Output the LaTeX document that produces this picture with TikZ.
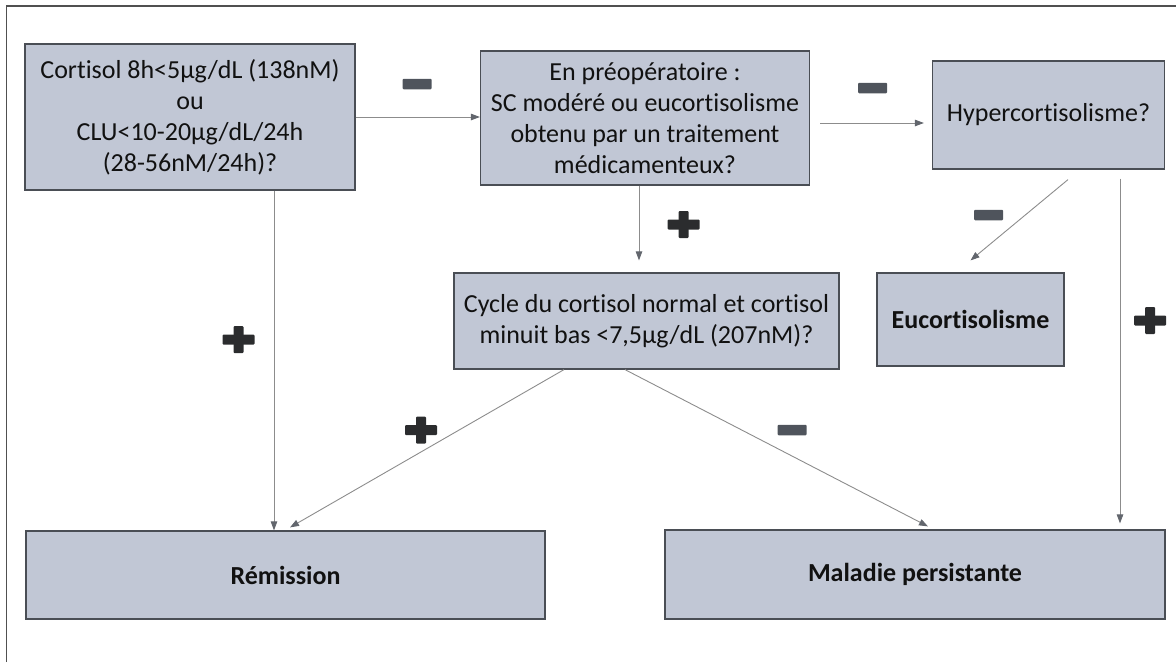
\documentclass[tikz,border=0pt]{standalone}
\usepackage{fontspec}
\setmainfont{Carlito}[Ligatures={NoCommon}]
\usetikzlibrary{arrows.meta}
\definecolor{boxfill}{HTML}{C1C7D5}
\definecolor{boxline}{HTML}{4A4E55}
\definecolor{connline}{HTML}{8C8C8C}
\definecolor{headcol}{HTML}{62666D}
\definecolor{minuscol}{HTML}{4F545C}
\definecolor{pluscol}{HTML}{2B2C2E}
\definecolor{textcol}{HTML}{111111}
\definecolor{framecol}{HTML}{505050}
\tikzset{
  box/.style={draw=boxline, line width=1.2pt, fill=boxfill, rectangle,
    inner sep=0pt, align=center, text=textcol,
    font=\fontsize{26}{31}\selectfont},
  boldbox/.style={box, font=\fontsize{26}{31}\selectfont\bfseries},
  conn/.style={draw=connline, line width=0.9pt,
    -{Triangle[length=9pt,width=6.5pt,fill=headcol,color=headcol]}},
  minussign/.style={rectangle, fill=minuscol, inner sep=0pt,
    minimum width=29pt, minimum height=10.5pt, rounded corners=1pt},
  plussign/.style={rectangle, inner sep=0pt, minimum width=32pt,
    minimum height=27pt,
    path picture={
      \fill[pluscol, rounded corners=1pt]
        ([yshift=-5pt]path picture bounding box.west) rectangle
        ([yshift=5pt]path picture bounding box.east);
      \fill[pluscol, rounded corners=1pt]
        ([xshift=-5pt]path picture bounding box.south) rectangle
        ([xshift=5pt]path picture bounding box.north);
    }},
  framestyle/.style={draw=framecol, line width=1.3pt}
}
\begin{document}
\begin{tikzpicture}[x=1pt,y=-1pt]
\useasboundingbox (0,0) rectangle (1176,662);
% outer frame
\coordinate (fbl) at (6.5,662);
\coordinate (ftl) at (6.5,6);
\coordinate (ftr) at (1176,6);
\draw[framestyle] (fbl) -- (ftl) -- (ftr);

% boxes
\node[box, minimum width=330pt, minimum height=146pt] (b1) at (190,117)
  {Cortisol 8h<5µg/dL (138nM)\\ou\\CLU<10-20µg/dL/24h\\(28-56nM/24h)?};
\node[box, minimum width=329pt, minimum height=134pt] (b2) at (645,118)
  {En préopératoire :\\SC modéré ou eucortisolisme\\obtenu par un traitement\\médicamenteux?};
\node[box, minimum width=232pt, minimum height=108pt] (b3) at (1048.5,115)
  {Hypercortisolisme?};
\node[box, minimum width=385pt, minimum height=96pt] (cyc) at (646.5,321)
  {Cycle du cortisol normal et cortisol\\minuit bas <7,5µg/dL (207nM)?};
\node[boldbox, minimum width=187pt, minimum height=93pt] (euco) at (970.5,319.5)
  {Eucortisolisme};
\node[boldbox, minimum width=519pt, minimum height=88pt] (rem) at (285.5,575)
  {Rémission};
\node[boldbox, minimum width=500pt, minimum height=89pt] (mal) at (915,574.5)
  {Maladie persistante};

% connectors
\draw[conn] (b1.east) -- (b1.east -| b2.west);
\draw[conn] ([xshift=10pt,yshift=-5pt]b2.east) -- ([xshift=-8pt,yshift=-8pt]b3.west);
\draw[conn] ([xshift=-6pt]b2.south) -- ([xshift=-7.5pt,yshift=12pt]cyc.north);
\draw[conn] ([xshift=84pt]b1.south) -- ([xshift=-11.5pt]rem.north);
\draw[conn] ([xshift=-82.5pt]cyc.south) -- ([xshift=4.5pt,yshift=3pt]rem.north);
\draw[conn] ([xshift=-21.5pt]cyc.south) -- ([xshift=13pt,yshift=3pt]mal.north);
\draw[conn] ([xshift=19.5pt,yshift=-10pt]b3.south) -- ([yshift=12pt]euco.north);
\draw[conn] ([xshift=71.5pt,yshift=-9pt]b3.south) -- ([xshift=205pt,yshift=6pt]mal.north);

% signs
\node[minussign] (m1) at (417,84) {};
\node[minussign] (m2) at (872.5,88) {};
\node[minussign] (m3) at (988.5,215) {};
\node[minussign] (m4) at (792,430) {};
\node[plussign] (p1) at (683.5,224.5) {};
\node[plussign] (p2) at (238.5,339.5) {};
\node[plussign] (p3) at (421,430) {};
\node[plussign] (p4) at (1150,320.5) {};
\end{tikzpicture}
\end{document}
